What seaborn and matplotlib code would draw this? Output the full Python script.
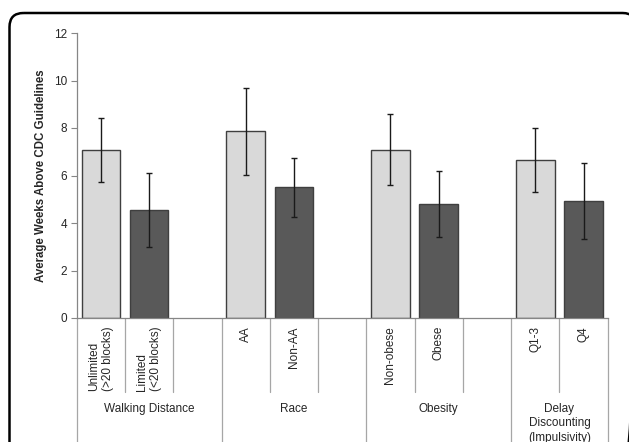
import matplotlib
matplotlib.use("Agg")
import matplotlib.pyplot as plt
import matplotlib.transforms as mtransforms
from matplotlib.patches import FancyBboxPatch
import pandas as pd
import seaborn as sns

# bar labels, values
labels = ["Unlimited\n(>20 blocks)", "Limited\n(<20 blocks)", "AA", "Non-AA",
          "Non-obese", "Obese", "Q1-3", "Q4"]
levels = ["light", "dark", "light", "dark", "light", "dark", "light", "dark"]
means = [7.08, 4.55, 7.86, 5.50, 7.09, 4.81, 6.65, 4.93]
errors = [1.36, 1.57, 1.83, 1.24, 1.51, 1.39, 1.33, 1.59]
groups = ["Walking Distance", "Race", "Obesity", "Delay\nDiscounting\n(Impulsivity)"]
# slot order, blank slots between groups
order = [labels[0], labels[1], " ", labels[2], labels[3], "  ",
         labels[4], labels[5], "   ", labels[6], labels[7]]
group_spans = [(-0.5, 2.5), (2.5, 5.5), (5.5, 8.5), (8.5, 10.5)]

df = pd.DataFrame({"label": labels, "level": levels, "mean": means, "err": errors})

sns.set_style("white")
plt.rcParams["font.family"] = ["Liberation Sans", "DejaVu Sans"]
plt.rcParams["font.size"] = 8

fig = plt.figure(figsize=(6.29, 4.42), dpi=100)

# rounded outer frame, drawn in pixel coordinates
bg = fig.add_axes([0, 0, 1, 1], zorder=-1)
bg.set_xlim(0, 629)
bg.set_ylim(442, 0)
bg.axis("off")
bg.add_patch(FancyBboxPatch((9.5, 13), 627, 460,
                            boxstyle="round,pad=0,rounding_size=14",
                            fill=False, edgecolor="black", linewidth=1.8))

ax = fig.add_axes([76.7 / 629, 1 - 318 / 442, 531 / 629, 285 / 442])
ax.patch.set_alpha(0)
sns.barplot(data=df, x="label", y="mean", hue="level", order=order,
            palette={"light": "#d9d9d9", "dark": "#595959"},
            dodge=False, width=0.8, legend=False, errorbar=None,
            edgecolor="#3f3f3f", linewidth=1.0, ax=ax)

pos = [order.index(l) for l in labels]
ax.errorbar(pos, means, yerr=errors, fmt="none", ecolor="#1a1a1a",
            elinewidth=1.0, capsize=2, capthick=1.0, zorder=5)

ax.set_xlim(-0.5, 10.5)
ax.set_ylim(0, 12)
ax.set_yticks(range(0, 13, 2))
ax.set_xticks([])
ax.set_xlabel("")
ax.set_ylabel("Average Weeks Above CDC Guidelines", fontweight="bold",
              fontsize=8.3, labelpad=5)
ax.tick_params(axis="y", length=4, width=0.8, color="#868686", pad=3,
               left=True, labelsize=8.5)
for side in ["top", "right"]:
    ax.spines[side].set_visible(False)
for side in ["left", "bottom"]:
    ax.spines[side].set_color("#868686")
    ax.spines[side].set_linewidth(0.9)

# category table below the axis
trans = mtransforms.blended_transform_factory(ax.transData, ax.transAxes)
ppx = 1 / 285.0
inner_bottom = -(392 - 318) * ppx
group_edges = {-0.5, 2.5, 5.5, 8.5, 10.5}
for k in range(12):
    x = k - 0.5
    bottom = -0.5 if x in group_edges else inner_bottom
    ax.plot([x, x], [0, bottom], transform=trans, color="#a6a6a6",
            linewidth=0.9, clip_on=False)

for p, lab in zip(pos, labels):
    ax.text(p, -(326 - 318) * ppx, lab, transform=trans, rotation=90,
            ha="center", va="top", multialignment="left", fontsize=8.5)

for name, (a, b) in zip(groups, group_spans):
    ax.text((a + b) / 2, -(403 - 318) * ppx, name, transform=trans,
            ha="center", va="top", fontsize=8.5, linespacing=1.25)

fig.savefig("out.png", dpi=100)
